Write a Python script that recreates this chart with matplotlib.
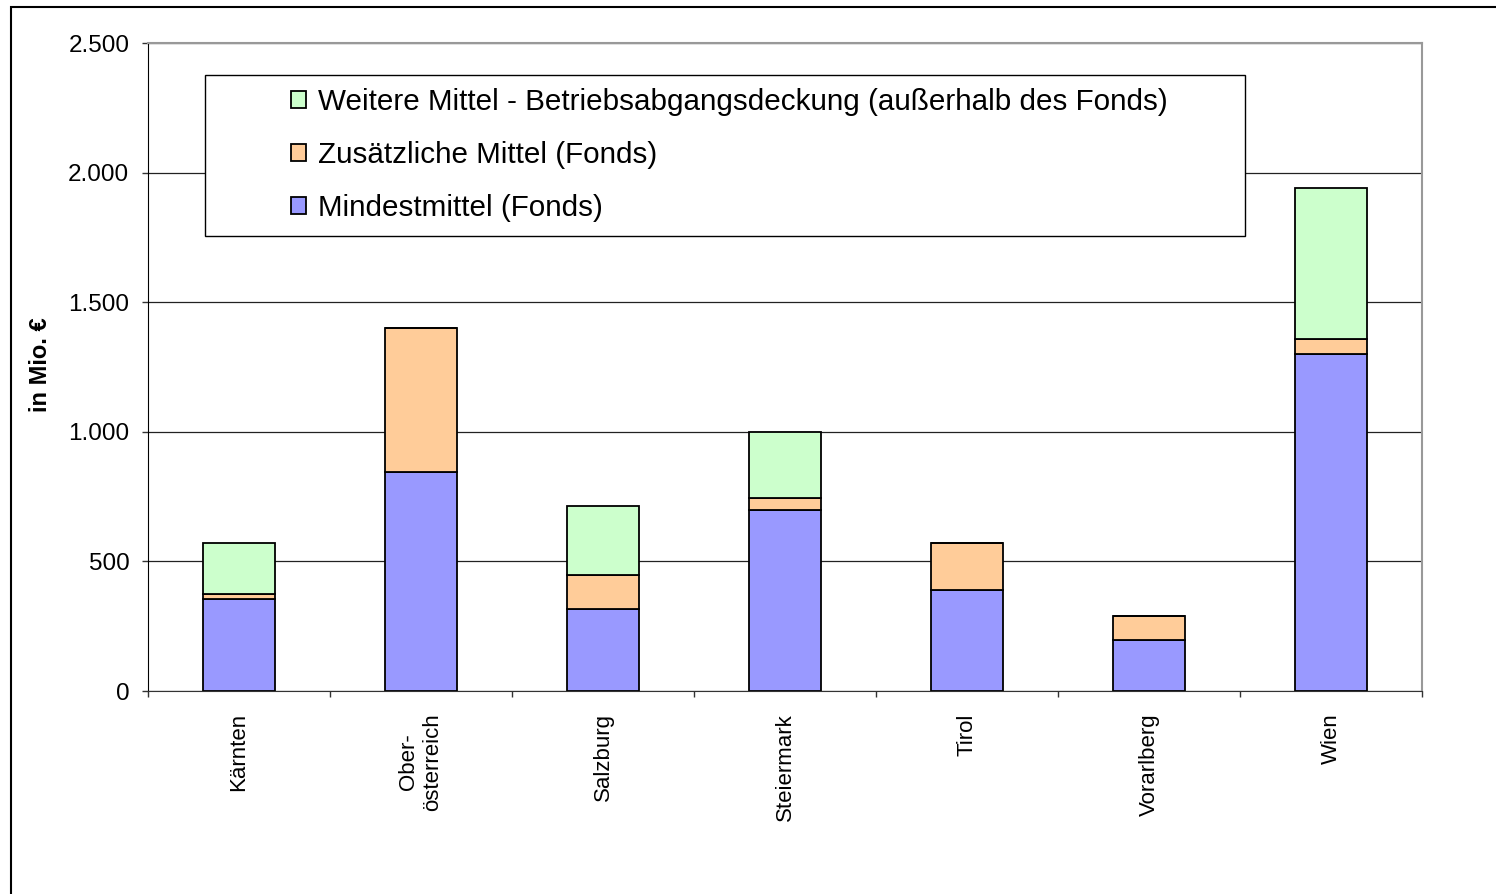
import numpy as np
import matplotlib
matplotlib.use("Agg")
from matplotlib import pyplot as plt
from matplotlib.patches import Rectangle
from matplotlib.ticker import FixedLocator, FuncFormatter

plt.rcParams["font.family"] = ["Liberation Sans", "DejaVu Sans"]

# data (Mio. Euro)
regions = ["Kärnten", "Ober-\nösterreich", "Salzburg", "Steiermark", "Tirol", "Vorarlberg", "Wien"]
mindestmittel = [355, 845, 317, 698, 388, 195, 1302]
zusaetzlich = [20, 555, 130, 48, 183, 96, 57]
weitere = [196, 0, 267, 253, 0, 0, 581]

labels = [
    "Mindestmittel (Fonds)",
    "Zusätzliche Mittel (Fonds)",
    "Weitere Mittel - Betriebsabgangsdeckung (außerhalb des Fonds)",
]
colors = ["#9999FF", "#FFCC99", "#CCFFCC"]

W, H = 1496, 894
fig = plt.figure(figsize=(W / 100, H / 100), dpi=100)
ax = fig.add_axes([148 / W, 1 - 691 / H, (1422 - 148) / W, (691 - 43) / H])

# outer chart frame
fig.patches.append(Rectangle((11 / W, -0.1), 1.2, 1.1 - 7 / H, transform=fig.transFigure,
                             fill=False, edgecolor="black", lw=1.5, clip_on=False))

x = np.arange(len(regions))
bottom = np.zeros(len(regions))
handles = []
for vals, lab, col in zip([mindestmittel, zusaetzlich, weitere], labels, colors):
    vals = np.array(vals, dtype=float)
    h = ax.bar(x, vals, width=0.4, bottom=bottom, color=col, edgecolor="black",
               linewidth=1.3, label=lab, zorder=2)
    handles.append(h)
    bottom += vals

ax.set_xlim(-0.5, len(regions) - 0.5)
ax.set_ylim(0, 2500)
ax.set_yticks(np.arange(0, 2501, 500))
ax.yaxis.set_major_formatter(FuncFormatter(lambda v, p: f"{v:,.0f}".replace(",", ".")))
ax.grid(axis="y", color="#222222", lw=0.9, zorder=0)
ax.set_axisbelow(True)

ax.xaxis.set_major_locator(FixedLocator(np.arange(-0.5, len(regions), 1.0)))
ax.xaxis.set_major_formatter(FuncFormatter(lambda v, p: ""))
ax.xaxis.set_minor_locator(FixedLocator(x))
ax.set_xticklabels(regions, minor=True, rotation=90, fontsize=16, multialignment="center")
ax.tick_params(axis="x", which="minor", length=0, pad=16)
ax.tick_params(axis="x", which="major", length=4.5, width=1, color="#333333")
ax.tick_params(axis="y", length=4.5, width=1, labelsize=17.5, pad=9, color="#333333")

for s in ["top", "right"]:
    ax.spines[s].set_color("#999999")
    ax.spines[s].set_linewidth(1.5)
ax.spines["left"].set_color("black")
ax.spines["bottom"].set_color("#333333")

ax.set_ylabel("in Mio. €", fontsize=17, fontweight="bold")
ax.yaxis.set_label_coords(-(148 - 52) / 1274, 0.503)

# legend box
lx0, lx1 = (205 - 148) / 1274, (1245 - 148) / 1274
ly0, ly1 = (691 - 236) / 648, (691 - 75) / 648
ax.add_patch(Rectangle((lx0, ly0), lx1 - lx0, ly1 - ly0, transform=ax.transAxes,
                       facecolor="white", edgecolor="black", lw=1, zorder=4))
leg = ax.legend(handles[::-1], labels[::-1], loc="upper left",
                bbox_to_anchor=((291 - 148) / 1274, (691 - 88) / 648),
                frameon=False, fontsize=21.3, handlelength=0.5, handleheight=0.5,
                handletextpad=0.4, labelspacing=0.85, borderpad=0, borderaxespad=0)
leg.set_zorder(5)

fig.savefig("out.png", dpi=100)
